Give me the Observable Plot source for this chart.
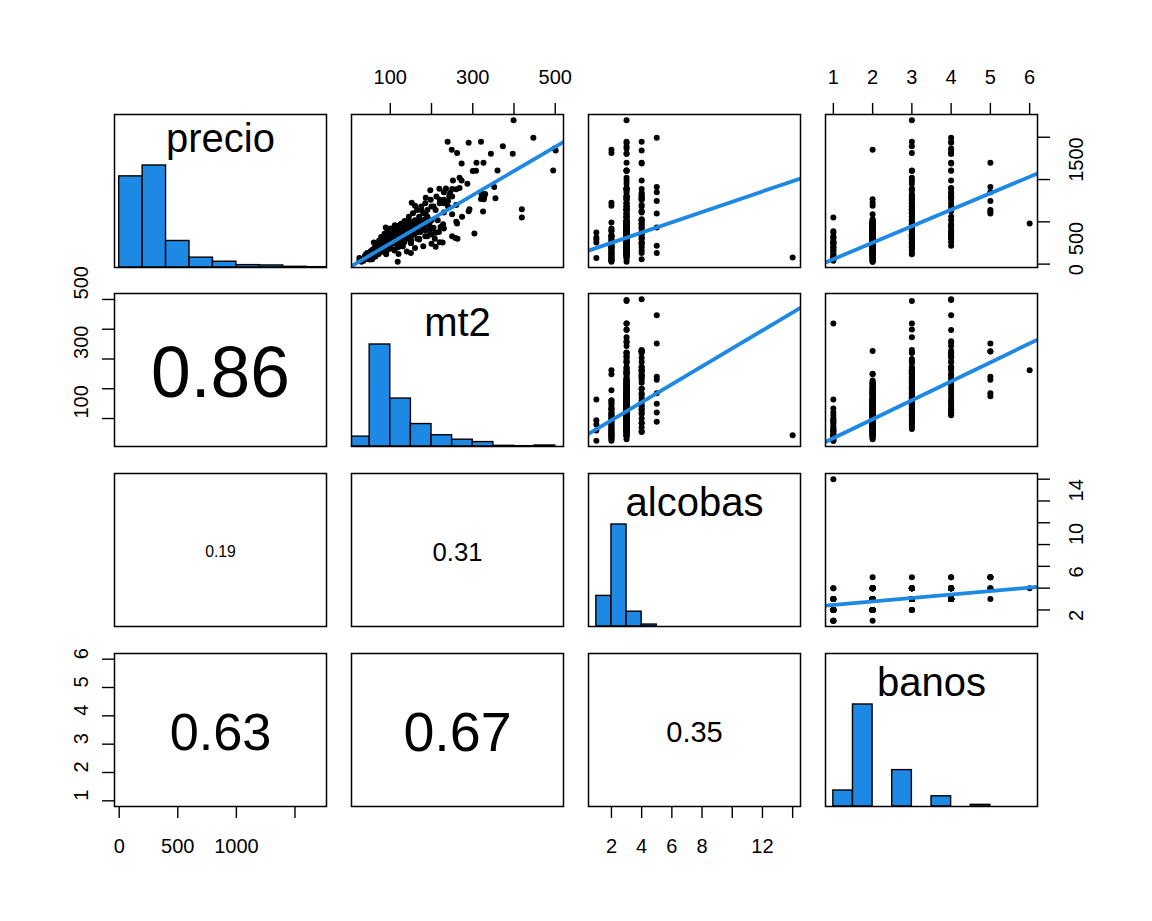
<!DOCTYPE html>
<html><head><meta charset="utf-8">
<script src="https://cdn.jsdelivr.net/npm/d3@7"></script>
<script src="https://cdn.jsdelivr.net/npm/@observablehq/plot@0.6"></script>
<style>
html,body{margin:0;padding:0;background:#fff;}
#chart{position:relative;width:1152px;height:921px;overflow:hidden;background:#fff;}
.cell{position:absolute;}
</style></head><body><div id="chart"></div>
<script>
const vars = ["precio", "mt2", "alcobas", "banos"];

// observations: [precio, mt2, alcobas, banos]
const obsOutliers = [
[1702,399,3,3],[1494,447,5,4],[1446,239,4,3],[1435,290,3,4],[1446,320,3,4],[1395,373,3,3],
[1352,249,2,2],[1313,262,2,3],[1305,397,3,4],[1305,344,3,4],[1368,498,3,4],[1344,501,4,4],
[1199,309,3,4],[1199,326,4,5],[1190,273,4,4],[1100,300,3,3],[1105,308,3,4],[1108,360,3,4],
[1108,495,3,3],[1022,268,3,3],[990,252,3,3],[990,273,4,4],[951,287,3,3],[912,352,5,5],
[872,197,3,3],[890,219,3,3],[895,235,3,4],[888,250,4,3],[884,260,3,3],[806,243,4,3],
[786,186,3,3],[850,230,5,5],[850,320,3,4],[830,330,4,3],[810,322,3,3],[800,328,4,4],
[780,355,3,4],[770,320,4,3],[747,240,5,5],[650,292,3,3],[625,290,4,4],[650,419,3,3],
[550,419,3,1],[621,325,4,5],[727,152,2,2],[690,160,2,2],[766,327,4,2],[590,250,3,2],
[362,304,4,4],[330,250,3,3],[310,258,3,3],[300,263,4,4],[255,227,3,3],[204,210,3,3],
[216,120,5,4],[130,150,5,3],[27,118,2,2],[597,185,5,5],[432,89,5,2],[640,175,3,5],
[480,262,4,6],[79,44,14,1],[420,195,2,2]
];
const obsBanos1 = [
[40,25,2,1],[60,30,2,1],[90,38,2,1],[120,45,2,1],[150,52,2,1],[180,60,2,1],[210,70,2,1],
[240,78,2,1],[270,90,2,1],[330,110,2,1],[390,134,2,1],[200,65,3,1],[300,100,3,1],[250,120,3,1],
[250,85,4,1],[373,164,1,1],[314,94,1,1],[255,60,1,1],[71,25,1,1],[110,40,3,1],[160,55,4,1]
];
const obsBanos2 = [
[290,80,1,2],
[60,45,3,2],[95,48,3,2],[130,50,3,2],[75,52,3,2],[160,55,3,2],[110,57,3,2],[140,60,3,2],
[185,62,3,2],[90,64,3,2],[210,66,3,2],[150,68,3,2],[240,70,3,2],[120,72,3,2],[175,74,3,2],
[260,75,3,2],[200,77,3,2],[145,79,3,2],[290,80,3,2],[230,82,3,2],[170,84,3,2],[310,85,3,2],
[250,87,3,2],[195,89,3,2],[330,90,3,2],[270,92,3,2],[215,94,3,2],[350,95,3,2],[290,97,3,2],
[240,99,3,2],[370,100,3,2],[310,102,3,2],[260,104,3,2],[400,106,3,2],[330,108,3,2],[280,110,3,2],
[420,112,3,2],[350,114,3,2],[300,116,3,2],[450,118,3,2],[380,120,3,2],[320,123,3,2],[470,126,3,2],
[400,129,3,2],[340,132,3,2],[490,135,3,2],[420,138,3,2],[360,142,3,2],[510,146,3,2],[440,150,3,2],
[380,155,3,2],[470,160,3,2],[410,165,3,2],[500,170,3,2],[450,178,3,2],[400,185,3,2],[480,195,3,2],
[430,205,3,2],[520,215,3,2],[470,228,3,2],[27,30,3,2],
[140,90,3,2],[170,110,3,2],[210,130,3,2],[250,150,3,2],[290,170,3,2],[330,190,3,2],[370,210,3,2],
[120,120,3,2],[150,140,3,2],[190,160,3,2],[210,180,3,2],[240,200,3,2],[260,220,3,2],
[100,40,3,2],[130,44,3,2],[170,58,3,2],[200,63,3,2],[230,67,3,2],[280,73,3,2],[320,78,3,2],
[190,81,3,2],[360,86,3,2],[280,88,3,2],[230,91,3,2],[390,93,3,2],[320,96,3,2],[180,97,3,2],
[420,101,3,2],[290,103,3,2],[350,107,3,2],[460,111,3,2],[250,113,3,2],[390,117,3,2],[200,119,3,2],
[430,122,3,2],[300,125,3,2],[480,128,3,2],[360,131,3,2],[260,134,3,2],[450,137,3,2],[330,140,3,2],
[500,143,3,2],[390,147,3,2],[280,151,3,2],[460,153,3,2],[350,158,3,2],[420,162,3,2],[300,166,3,2],
[490,168,3,2],[380,173,3,2],[440,180,3,2],[330,185,3,2],[470,190,3,2],[360,197,3,2],[420,202,3,2],
[300,208,3,2],[380,218,3,2],[440,222,3,2],
[40,35,2,2],[70,40,2,2],[110,46,2,2],[55,50,2,2],[135,55,2,2],[90,60,2,2],[175,65,2,2],
[125,70,2,2],[215,78,2,2],[160,85,2,2],[255,92,2,2],[200,98,2,2],[300,105,2,2],[240,112,2,2],
[345,120,2,2],[290,130,2,2],[400,140,2,2],[330,150,2,2],[491,161,2,2],
[59,56,4,2],[130,70,4,2],[200,85,4,2],[260,100,4,2],[320,115,4,2],[380,130,4,2],[430,145,4,2],
[480,160,4,2],[530,185,4,2],[230,120,4,2]
];
const obsBanos3 = [
[180,65,3,3],[230,72,3,3],[260,80,3,3],[300,88,3,3],[340,95,3,3],[250,100,3,3],[390,105,3,3],
[300,110,3,3],[430,115,3,3],[350,120,3,3],[470,125,3,3],[400,130,3,3],[510,135,3,3],[440,140,3,3],
[560,145,3,3],[480,150,3,3],[600,155,3,3],[520,160,3,3],[640,165,3,3],[560,170,3,3],[680,175,3,3],
[600,180,3,3],[720,185,3,3],[640,190,3,3],[760,198,3,3],[680,205,3,3],[800,212,3,3],[720,220,3,3],
[760,230,3,3],[680,240,3,3],[118,90,3,3],[160,110,3,3],[210,130,3,3],[250,150,3,3],[300,170,3,3],
[350,200,3,3],[420,230,3,3],[500,260,3,3],[560,274,3,3],
[300,140,4,3],[420,170,4,3],[520,200,4,3],[610,230,4,3],[700,260,4,3],
[200,100,2,3],[330,130,2,3]
];
const obsBanos4 = [
[260,111,3,4],[330,120,3,4],[300,130,3,4],[400,140,3,4],[380,150,3,4],[470,160,3,4],[440,168,3,4],
[560,190,3,4],[640,210,3,4],[720,230,3,4],[800,250,3,4],[900,268,3,4],
[350,130,4,4],[450,155,4,4],[520,180,4,4],[680,200,4,4],[760,220,4,4],[840,245,4,4]
];

// histograms (bin breaks and counts)
const precioBreaks = [0,200,400,600,800,1000,1200,1400,1600,1800];
const precioCounts = [268,300,78,29,17,7,6,2,1];
const mt2Breaks = [0,50,100,150,200,250,300,350,400,450,500];
const mt2Counts = [29,300,141,66,33,20,13,2,1,3];
const alcobasBreaks = [1,2,3,4,5,6,7,8,9,10,11,12,13,14];
const alcobasCounts = [126,420,61,8,0,0,0,0,0,0,0,0,0];
const banosBreaks = [1,1.5,2,2.5,3,3.5,4,4.5,5,5.5,6];
const banosCounts = [58,370,0,132,0,37,0,6,0,0];

// correlations (lower panels: mt2~precio, alcobas~precio, alcobas~mt2, banos~precio, banos~mt2, banos~alcobas)
const corValues = [0.86, 0.19, 0.31, 0.63, 0.67, 0.35];
const corLabels = ["0.86", "0.19", "0.31", "0.63", "0.67", "0.35"];
// regression lines (upper panels: precio~mt2, precio~alcobas, precio~banos, mt2~alcobas, mt2~banos, alcobas~banos)
const regIntercepts = [-40.5, 129.5, -136.7, 33.5, -29.8, 2.13];
const regSlopes = [2.852, 60.8, 194.9, 30.2, 63.7, 0.32];

// ticks and tick labels
const precioTicks = [0,500,1000,1500];
const precioLabelsBottom = ["0","500","1000",""];
const precioLabelsRight = ["0","500","","1500"];
const mt2Ticks = [100,200,300,400,500];
const mt2Labels = ["100","","300","","500"];
const alcobasTicks = [2,4,6,8,10,12,14];
const alcobasLabelsBottom = ["2","4","6","8","","12",""];
const alcobasLabelsRight = ["2","","6","","10","","14"];
const banosTicks = [1,2,3,4,5,6];
const banosLabels = ["1","2","3","4","5","6"];

// ---------------------------------------------------------------
const obs = [...obsOutliers, ...obsBanos1, ...obsBanos2, ...obsBanos3, ...obsBanos4]
  .map(([precio, mt2, alcobas, banos]) => ({precio, mt2, alcobas, banos}));
const breaksAll = [precioBreaks, mt2Breaks, alcobasBreaks, banosBreaks];
const countsAll = [precioCounts, mt2Counts, alcobasCounts, banosCounts];
const ticksAll = [precioTicks, mt2Ticks, alcobasTicks, banosTicks];
const upperPairs = [[0,1],[0,2],[0,3],[1,2],[1,3],[2,3]];
const lowerPairs = [[1,0],[2,0],[2,1],[3,0],[3,1],[3,2]];

const axisTop = {1: mt2Labels, 3: banosLabels};
const axisLeft = {1: mt2Labels, 3: banosLabels};
const axisBottom = {0: precioLabelsBottom, 2: alcobasLabelsBottom};
const axisRight = {0: precioLabelsRight, 2: alcobasLabelsRight};

const colLeft = [114, 351, 587.5, 825];
const rowTop = [113.5, 293, 473, 652.5];
const W = 212, H = 153, M = 60;
const BLUE = "#1E88E5";
const FONT = "'Liberation Sans', Arial, Helvetica, sans-serif";

function ext(arr) {
  const [lo, hi] = d3.extent(arr);
  const d = (hi - lo) * 0.04;
  return [lo - d, hi + d];
}
const domains = vars.map(v => ext(obs.map(o => o[v])));

function axisMarks(r, c) {
  const m = [];
  const tkStyle = {tickSize: 12, tickFormat: () => "", strokeWidth: 1.4, label: null};
  if (r === 0 && axisTop[c]) {
    const tk = ticksAll[c], lab = axisTop[c];
    m.push(Plot.axisX(tk, {anchor: "top", ...tkStyle}));
    m.push(Plot.text(tk, {x: d => d, text: (d, i) => lab[i], frameAnchor: "top", dy: -37, lineAnchor: "middle", fontSize: 20, fill: "black"}));
  }
  if (r === 3 && axisBottom[c]) {
    const tk = ticksAll[c], lab = axisBottom[c];
    m.push(Plot.axisX(tk, {anchor: "bottom", ...tkStyle}));
    m.push(Plot.text(tk, {x: d => d, text: (d, i) => lab[i], frameAnchor: "bottom", dy: 40, lineAnchor: "middle", fontSize: 20, fill: "black"}));
  }
  if (c === 0 && axisLeft[r]) {
    const tk = ticksAll[r], lab = axisLeft[r];
    m.push(Plot.axisY(tk, {anchor: "left", ...tkStyle}));
    m.push(Plot.text(tk, {y: d => d, text: (d, i) => lab[i], frameAnchor: "left", dx: -33, rotate: -90, lineAnchor: "middle", fontSize: 20, fill: "black"}));
  }
  if (c === 3 && axisRight[r]) {
    const tk = ticksAll[r], lab = axisRight[r];
    m.push(Plot.axisY(tk, {anchor: "right", ...tkStyle}));
    m.push(Plot.text(tk, {y: d => d, text: (d, i) => lab[i], frameAnchor: "right", dx: 39, rotate: -90, lineAnchor: "middle", fontSize: 20, fill: "black"}));
  }
  return m;
}

const chart = document.getElementById("chart");
function place(svg, r, c) {
  const div = document.createElement("div");
  div.className = "cell";
  div.style.left = (colLeft[c] - M) + "px";
  div.style.top = (rowTop[r] - M) + "px";
  div.style.width = (W + 2 * M) + "px";
  div.style.height = (H + 2 * M) + "px";
  div.appendChild(svg);
  chart.appendChild(div);
}

for (let r = 0; r < 4; r++) {
  for (let c = 0; c < 4; c++) {
    let marks = [];
    let xDomain = domains[c], yDomain = domains[r];
    if (r === c) {
      const br = breaksAll[c], ct = countsAll[c], mx = d3.max(ct);
      const bins = ct.map((n, i) => ({x1: br[i], x2: br[i + 1], y1: 0, y2: n / mx}));
      yDomain = [0, 1.5];
      const name = vars[c];
      const hasDesc = /[gjpqy]/.test(name);
      marks.push(Plot.rect(bins, {x1: "x1", x2: "x2", y1: "y1", y2: "y2", fill: BLUE, stroke: "black", strokeWidth: 1.4, clip: true}));
      marks.push(Plot.text([name], {text: d => d, frameAnchor: "top", lineAnchor: "bottom", dy: hasDesc ? 37.8 : 42, fontSize: 40, fill: "black"}));
    } else if (r < c) {
      const k = upperPairs.findIndex(([a, b]) => a === r && b === c);
      const a = regIntercepts[k], b = regSlopes[k];
      const linePts = xDomain.map(x => ({x, y: a + b * x}));
      marks.push(Plot.dot(obs, {x: vars[c], y: vars[r], r: 3, fill: "black", clip: true}));
      marks.push(Plot.line(linePts, {x: "x", y: "y", stroke: BLUE, strokeWidth: 3.8, clip: true}));
    } else {
      const k = lowerPairs.findIndex(([a, b]) => a === r && b === c);
      const fs = 83 * corValues[k];
      marks.push(Plot.text([corLabels[k]], {text: d => d, frameAnchor: "middle", lineAnchor: "bottom", dy: 0.358 * fs + 1.5, fontSize: fs, fill: "black"}));
    }
    marks.push(...axisMarks(r, c));
    marks.push(Plot.frame({stroke: "black", strokeWidth: 1.5}));
    const svg = Plot.plot({
      width: W + 2 * M, height: H + 2 * M,
      marginTop: M, marginRight: M, marginBottom: M, marginLeft: M,
      x: {domain: xDomain, axis: null},
      y: {domain: yDomain, axis: null},
      style: `background: transparent; font-family: ${FONT}; overflow: visible; color: black;`,
      marks
    });
    place(svg, r, c);
  }
}
</script>
</body></html>
